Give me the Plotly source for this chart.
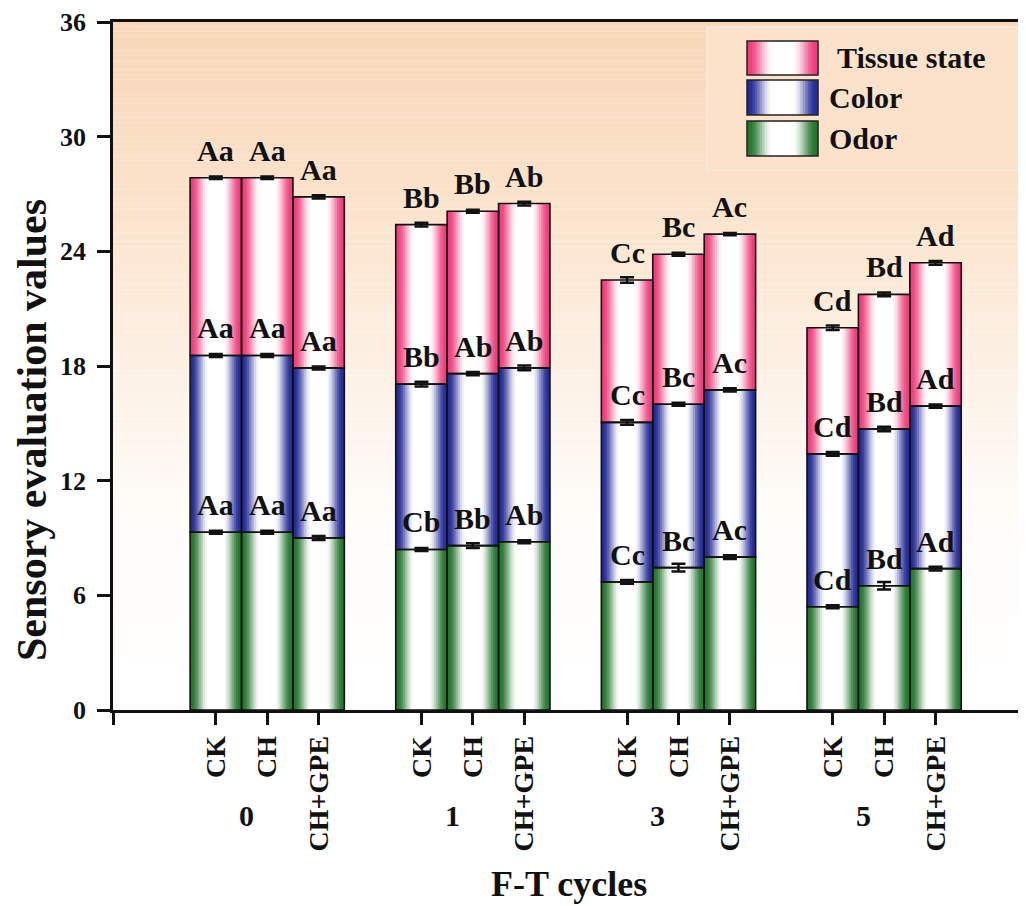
import plotly.graph_objects as go

# ---------------- data ----------------
cycles = ["0", "1", "3", "5"]
treatments = ["CK", "CH", "CH+GPE"]

# cumulative tops, per group (CK, CH, CH+GPE)
odor = [9.3, 9.3, 9.0,   8.4, 8.6, 8.8,   6.7, 7.45, 8.0,   5.4, 6.5, 7.4]
color_top = [18.55, 18.55, 17.9,   17.05, 17.6, 17.9,   15.05, 16.0, 16.75,   13.4, 14.7, 15.9]
total_top = [27.85, 27.85, 26.85,   25.4, 26.1, 26.5,   22.5, 23.85, 24.9,   20.0, 21.75, 23.4]

color_vals = [round(c - o, 2) for c, o in zip(color_top, odor)]
tissue_vals = [round(t - c, 2) for t, c in zip(total_top, color_top)]

odor_err = [0.08, 0.08, 0.1,   0.08, 0.12, 0.08,   0.1, 0.2, 0.1,   0.08, 0.2, 0.1]
color_err = [0.08, 0.08, 0.08,  0.12, 0.08, 0.12,   0.12, 0.08, 0.08,   0.1, 0.12, 0.08]
tissue_err = [0.06, 0.06, 0.08,  0.1, 0.08, 0.1,   0.15, 0.08, 0.06,   0.12, 0.1, 0.1]

odor_lab = ["Aa", "Aa", "Aa", "Cb", "Bb", "Ab", "Cc", "Bc", "Ac", "Cd", "Bd", "Ad"]
color_lab = ["Aa", "Aa", "Aa", "Bb", "Ab", "Ab", "Cc", "Bc", "Ac", "Cd", "Bd", "Ad"]
tissue_lab = ["Aa", "Aa", "Aa", "Bb", "Bb", "Ab", "Cc", "Bc", "Ac", "Cd", "Bd", "Ad"]

series_names = ["Odor", "Color", "Tissue state"]
y_ticks = [0, 6, 12, 18, 24, 30, 36]

# ---------------- styling ----------------
FONT = "Liberation Serif, Times New Roman, serif"
EDGE = {"Odor": (38, 118, 48), "Color": (36, 44, 150), "Tissue state": (238, 62, 124)}
N_LEV = 14
BAR_W = 1.0

# positions: group g, treatment i -> g*4 + i
xpos = [g * 4 + i for g in range(len(cycles)) for i in range(len(treatments))]
X_MIN, X_MAX = -2.0, 15.76
Y_MAX = 36

# page body has an 8px margin, figure drawn at (8, 8)
OFF = 8
W, H = 1026 - OFF, 906 - OFF
L, R, T, B = 113 - OFF, 0, 22 - OFF, 906 - 710
PW, PH = W - L - R, H - T - B


def px2paper_x(px):
    return (px - OFF - L) / PW


def px2paper_y(py):
    return (710 - py) / PH


def shade(rgb, t):
    r, g, b = rgb
    return "rgb(%d,%d,%d)" % (round(r + (255 - r) * t), round(g + (255 - g) * t), round(b + (255 - b) * t))


def whiteness(fm):
    a, b = 0.95, 0.28
    if fm >= a:
        return 0.0
    if fm <= b:
        return 1.0
    s = (a - fm) / (a - b)
    return s * s * (3 - 2 * s)


def hex2rgb(h):
    h = h.lstrip("#")
    return tuple(int(h[i:i + 2], 16) for i in (0, 2, 4))


BG_STOPS = [(0, "#ffffff"), (0.28, "#fffcf9"), (0.44, "#fdf4ea"),
            (0.6, "#fcebd9"), (0.75, "#fbe2ca"), (1, "#f9d7b8")]


def bg_color(f):
    for (a, ca), (b, cb) in zip(BG_STOPS[:-1], BG_STOPS[1:]):
        if a <= f <= b:
            u = (f - a) / (b - a)
            p, q = hex2rgb(ca), hex2rgb(cb)
            return "rgb(%d,%d,%d)" % tuple(round(p[i] + (q[i] - p[i]) * u) for i in range(3))
    return BG_STOPS[-1][1]


fig = go.Figure()

# background vertical gradient (decoration) built from thin full-width bands
N_BG = 144
dy = Y_MAX / N_BG
bg_base = [k * dy for k in range(N_BG)]
fig.add_trace(go.Bar(
    x=[(X_MIN + X_MAX) / 2] * N_BG, y=[dy * 1.02] * N_BG, base=bg_base, width=X_MAX - X_MIN,
    marker=dict(color=[bg_color((b + dy / 2) / Y_MAX) for b in bg_base], line=dict(width=0)),
    hoverinfo="skip", showlegend=False))

bases = {"Odor": [0] * 12, "Color": odor, "Tissue state": color_top}
heights = {"Odor": odor, "Color": color_vals, "Tissue state": tissue_vals}
errs = {"Odor": odor_err, "Color": color_err, "Tissue state": tissue_err}

# gradient-filled bars: nested overlaid bars of shrinking width
for name in series_names:
    for k in range(N_LEV):
        f_out = 1 - k / N_LEV
        f_in = 1 - (k + 1) / N_LEV
        t = whiteness((f_out + f_in) / 2)
        fig.add_trace(go.Bar(
            x=xpos, y=heights[name], base=bases[name], width=BAR_W * f_out,
            marker=dict(color=shade(EDGE[name], t), line=dict(width=0)),
            showlegend=False, hoverinfo="skip"))

# outlines + error bars
for name in series_names:
    fig.add_trace(go.Bar(
        x=xpos, y=heights[name], base=bases[name], width=BAR_W, name=name,
        marker=dict(color="rgba(0,0,0,0)", line=dict(color="#111111", width=1.6)),
        error_y=dict(type="data", array=errs[name], color="#111111", thickness=2.5, width=7),
        showlegend=False))

annotations = []
# significance letters
for tops, labs in [(odor, odor_lab), (color_top, color_lab), (total_top, tissue_lab)]:
    for x, y, s in zip(xpos, tops, labs):
        annotations.append(dict(x=x, y=y, xref="x", yref="y", text=s, showarrow=False,
                                yanchor="bottom", yshift=9,
                                font=dict(family=FONT, size=30, color="#111111", weight="bold")))

# group labels
for g, c in enumerate(cycles):
    annotations.append(dict(x=g * 4 + 1 - 0.4, y=px2paper_y(815), xref="x", yref="paper",
                            text=c, showarrow=False, yanchor="middle",
                            font=dict(family=FONT, size=30, color="#111111", weight="bold")))

# axis titles
annotations.append(dict(x=px2paper_x(569), y=px2paper_y(884), xref="paper", yref="paper",
                        text="F-T cycles", showarrow=False, yanchor="middle",
                        font=dict(family=FONT, size=36, color="#111111", weight="bold")))
annotations.append(dict(x=px2paper_x(32), y=px2paper_y(430), xref="paper", yref="paper",
                        text="Sensory evaluation values", textangle=-90, showarrow=False,
                        xanchor="center", yanchor="middle",
                        font=dict(family=FONT, size=42, color="#111111", weight="bold")))

# manual legend
shapes = []
box = (707, 27, 1030, 170)
shapes.append(dict(type="rect", xref="paper", yref="paper", layer="above",
                   x0=px2paper_x(box[0]), x1=px2paper_x(box[2]),
                   y0=px2paper_y(box[3]), y1=px2paper_y(box[1]),
                   fillcolor="#fde2cb", line=dict(color="#f7eadf", width=1.5)))
sw_x0, sw_x1 = 747, 818
rows = [("Tissue state", 41, 75, 835), ("Color", 80, 115, 827), ("Odor", 121, 156, 827)]
for name, y0, y1, tx in rows:
    cx = (sw_x0 + sw_x1) / 2
    hw = (sw_x1 - sw_x0) / 2
    for k in range(N_LEV):
        f_out = 1 - k / N_LEV
        f_in = 1 - (k + 1) / N_LEV
        t = whiteness((f_out + f_in) / 2)
        shapes.append(dict(type="rect", xref="paper", yref="paper", layer="above",
                           x0=px2paper_x(cx - hw * f_out), x1=px2paper_x(cx + hw * f_out),
                           y0=px2paper_y(y1), y1=px2paper_y(y0),
                           fillcolor=shade(EDGE[name], t), line=dict(width=0)))
    shapes.append(dict(type="rect", xref="paper", yref="paper", layer="above",
                       x0=px2paper_x(sw_x0), x1=px2paper_x(sw_x1),
                       y0=px2paper_y(y1), y1=px2paper_y(y0),
                       fillcolor="rgba(0,0,0,0)", line=dict(color="#222222", width=1.5)))
    annotations.append(dict(x=px2paper_x(tx), y=px2paper_y((y0 + y1) / 2), xref="paper", yref="paper",
                            text=name, showarrow=False, xanchor="left", yanchor="middle",
                            font=dict(family=FONT, size=30, color="#111111", weight="bold")))

fig.update_layout(
    width=W, height=H,
    margin=dict(l=L, r=R, t=T, b=B, pad=0),
    barmode="overlay",
    paper_bgcolor="white", plot_bgcolor="white",
    showlegend=False,
    annotations=annotations, shapes=shapes,
    xaxis=dict(range=[X_MIN, X_MAX], tickmode="array",
               tickvals=[X_MIN] + xpos, ticktext=[""] + treatments * len(cycles),
               tickangle=-90, ticks="outside", ticklen=12, tickwidth=2.5, tickcolor="#111111",
               showline=True, linewidth=2.5, linecolor="#111111", mirror=True,
               showgrid=False, zeroline=False,
               tickfont=dict(family=FONT, size=28, color="#111111", weight="bold")),
    yaxis=dict(range=[0, Y_MAX], tickmode="array", tickvals=y_ticks,
               ticks="outside", ticklen=13, tickwidth=2.5, tickcolor="#111111",
               showline=True, linewidth=2.5, linecolor="#111111", mirror=False,
               showgrid=False, zeroline=False, ticklabelstandoff=6,
               tickfont=dict(family=FONT, size=26, color="#111111", weight="bold")),
)

fig.write_html("out.html")
